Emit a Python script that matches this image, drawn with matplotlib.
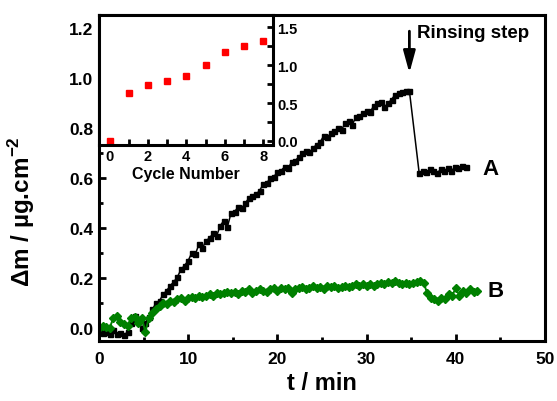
import matplotlib.pyplot as plt
import numpy as np

plt.rcParams['font.family'] = ['Liberation Sans', 'DejaVu Sans']
plt.rcParams['font.weight'] = 'bold'
plt.rcParams['mathtext.fontset'] = 'custom'
plt.rcParams['mathtext.rm'] = 'Liberation Sans:bold'
plt.rcParams['mathtext.bf'] = 'Liberation Sans:bold'

# series A (black squares)
tA = [0.0, 0.4, 0.8, 1.2, 1.6, 2.0, 2.4, 2.8, 3.2, 3.6, 4.0, 4.4, 4.8, 5.2, 5.6,
      6.0, 6.4, 6.8, 7.2, 7.6, 8.0, 8.4, 8.8, 9.2, 9.6, 10.0, 10.4, 10.8, 11.2, 11.6,
      12.0, 12.4, 12.8, 13.2, 13.6, 14.0, 14.4, 14.8, 15.2, 15.6, 16.0, 16.4, 16.8, 17.2, 17.6,
      18.0, 18.4, 18.8, 19.2, 19.6, 20.0, 20.4, 20.8, 21.2, 21.6, 22.0, 22.4, 22.8, 23.2, 23.6,
      24.0, 24.4, 24.8, 25.2, 25.6, 26.0, 26.4, 26.8, 27.2, 27.6, 28.0, 28.4, 28.8, 29.2, 29.6,
      30.0, 30.4, 30.8, 31.2, 31.6, 32.0, 32.4, 32.8, 33.2, 33.6, 34.0, 34.4, 34.8,
      35.9, 36.3, 36.7, 37.1, 37.5, 37.9, 38.3, 38.7, 39.1, 39.5, 39.9, 40.3, 40.7, 41.1]
mA = [-0.01, -0.02, -0.015, -0.025, -0.01, -0.025, -0.02, -0.03, -0.015, 0.02, 0.05, 0.03, 0.0, 0.02, 0.045,
      0.075, 0.1, 0.11, 0.135, 0.15, 0.17, 0.185, 0.205, 0.235, 0.25, 0.27, 0.3, 0.295, 0.335, 0.32,
      0.35, 0.36, 0.38, 0.37, 0.41, 0.43, 0.405, 0.46, 0.465, 0.485, 0.48, 0.5, 0.52, 0.53, 0.535,
      0.55, 0.575, 0.58, 0.6, 0.605, 0.625, 0.63, 0.645, 0.64, 0.665, 0.67, 0.685, 0.7, 0.71, 0.705,
      0.72, 0.735, 0.745, 0.77, 0.765, 0.78, 0.79, 0.8, 0.795, 0.82, 0.83, 0.815, 0.845, 0.85, 0.86,
      0.87, 0.865, 0.89, 0.9, 0.905, 0.885, 0.9, 0.915, 0.935, 0.94, 0.945, 0.95, 0.95,
      0.62, 0.63, 0.625, 0.635, 0.628, 0.62, 0.635, 0.63, 0.64, 0.628, 0.645, 0.64, 0.65, 0.645]

# series B (green diamonds)
tB = [0.0, 0.4, 0.8, 1.2, 1.6, 2.0, 2.4, 2.8, 3.2, 3.6, 4.0, 4.4, 4.8, 5.2, 5.6,
      6.0, 6.4, 6.8, 7.2, 7.6, 8.0, 8.4, 8.8, 9.2, 9.6, 10.0, 10.4, 10.8, 11.2, 11.6,
      12.0, 12.4, 12.8, 13.2, 13.6, 14.0, 14.4, 14.8, 15.2, 15.6, 16.0, 16.4, 16.8, 17.2, 17.6,
      18.0, 18.4, 18.8, 19.2, 19.6, 20.0, 20.4, 20.8, 21.2, 21.6, 22.0, 22.4, 22.8, 23.2, 23.6,
      24.0, 24.4, 24.8, 25.2, 25.6, 26.0, 26.4, 26.8, 27.2, 27.6, 28.0, 28.4, 28.8, 29.2, 29.6,
      30.0, 30.4, 30.8, 31.2, 31.6, 32.0, 32.4, 32.8, 33.2, 33.6, 34.0, 34.4, 34.8, 35.2, 35.6,
      36.0, 36.4, 36.8, 37.2, 37.6, 38.0, 38.4, 38.8, 39.2, 39.6, 40.0, 40.4, 40.8, 41.2, 41.6,
      42.0, 42.4]
mB = [0.0, 0.01, 0.005, 0.0, 0.04, 0.05, 0.025, 0.015, 0.01, 0.04, 0.045, 0.02, 0.04, -0.015, 0.04,
      0.06, 0.075, 0.09, 0.1, 0.095, 0.11, 0.105, 0.115, 0.12, 0.11, 0.12, 0.125, 0.12, 0.13, 0.125,
      0.13, 0.135, 0.13, 0.14, 0.135, 0.14, 0.145, 0.14, 0.145, 0.135, 0.15, 0.145, 0.155, 0.14, 0.15,
      0.155, 0.15, 0.145, 0.155, 0.16, 0.15, 0.16, 0.155, 0.16, 0.14, 0.155, 0.16, 0.165, 0.155, 0.16,
      0.17, 0.16, 0.165, 0.155, 0.17, 0.165, 0.17, 0.16, 0.165, 0.17, 0.165, 0.17, 0.175, 0.17, 0.175,
      0.17, 0.175, 0.17, 0.175, 0.18, 0.175, 0.185, 0.18, 0.19, 0.18, 0.175, 0.18, 0.175, 0.18, 0.185,
      0.19, 0.18, 0.14, 0.12, 0.115, 0.11, 0.12, 0.115, 0.135, 0.13, 0.16, 0.13, 0.15, 0.14, 0.155,
      0.145, 0.15]

# inset
cycles = [0, 1, 2, 3, 4, 5, 6, 7, 8]
cyc_mass = [0.0, 0.63, 0.74, 0.79, 0.86, 1.005, 1.18, 1.25, 1.32]

fig = plt.figure(figsize=(5.57, 4.02), dpi=100)
ax = fig.add_axes([0.1777, 0.1493, 0.8007, 0.8117])

ax.plot(tA, mA, color='black', marker='s', ms=3.6, lw=1.1)
ax.plot(tB, mB, color='#008000', marker='D', ms=4.2, lw=1.4)

ax.set_xlim(0, 50)
ax.set_ylim(-0.052, 1.255)
ax.set_xticks([0, 10, 20, 30, 40, 50])
ax.set_xticks([5, 15, 25, 35, 45], minor=True)
ax.set_yticks([0.0, 0.2, 0.4, 0.6, 0.8, 1.0, 1.2])
ax.set_yticks([0.1, 0.3, 0.5, 0.7, 0.9, 1.1], minor=True)
ax.tick_params(which='both', direction='in', width=2, labelsize=12.5)
ax.tick_params(which='major', length=5)
ax.tick_params(which='minor', length=3)
ax.tick_params(axis='x', pad=7)
ax.tick_params(axis='y', pad=4)
for s in ax.spines.values():
    s.set_linewidth(2.2)

ax.set_xlabel('t / min', fontsize=17, fontweight='bold', labelpad=4)
ax.set_ylabel('Δm / µg.cm$^{-2}$', fontsize=17.5, fontweight='bold')
ax.yaxis.set_label_coords(-0.14, 0.4)

ax.annotate('', xy=(34.8, 1.01), xytext=(34.8, 1.2),
            arrowprops=dict(arrowstyle='-|>,head_width=0.3,head_length=1.1',
                            color='black', lw=2, mutation_scale=12))
ax.text(35.7, 1.185, 'Rinsing step', fontsize=13.5, fontweight='bold', va='center')
ax.text(43.0, 0.64, 'A', fontsize=16, fontweight='bold', va='center')
ax.text(43.6, 0.151, 'B', fontsize=16, fontweight='bold', va='center')

ins = fig.add_axes([0.1777, 0.6376, 0.312, 0.3234])
ins.plot(cycles, cyc_mass, 's', color='red', ms=4.5)
ins.set_xlim(-0.55, 8.5)
ins.set_ylim(-0.05, 1.667)
ins.set_xticks([0, 2, 4, 6, 8])
ins.set_xticks([1, 3, 5, 7], minor=True)
ins.set_yticks([0.0, 0.5, 1.0, 1.5])
ins.set_yticks([0.25, 0.75, 1.25], minor=True)
ins.yaxis.tick_right()
ins.tick_params(which='both', direction='in', width=2, labelsize=10.5, pad=3)
ins.tick_params(which='major', length=4)
ins.tick_params(which='minor', length=4)
for s in ins.spines.values():
    s.set_linewidth(2.2)
ins.set_xlabel('Cycle Number', fontsize=11.5, fontweight='bold', labelpad=2)

fig.savefig('out.png', dpi=100)
